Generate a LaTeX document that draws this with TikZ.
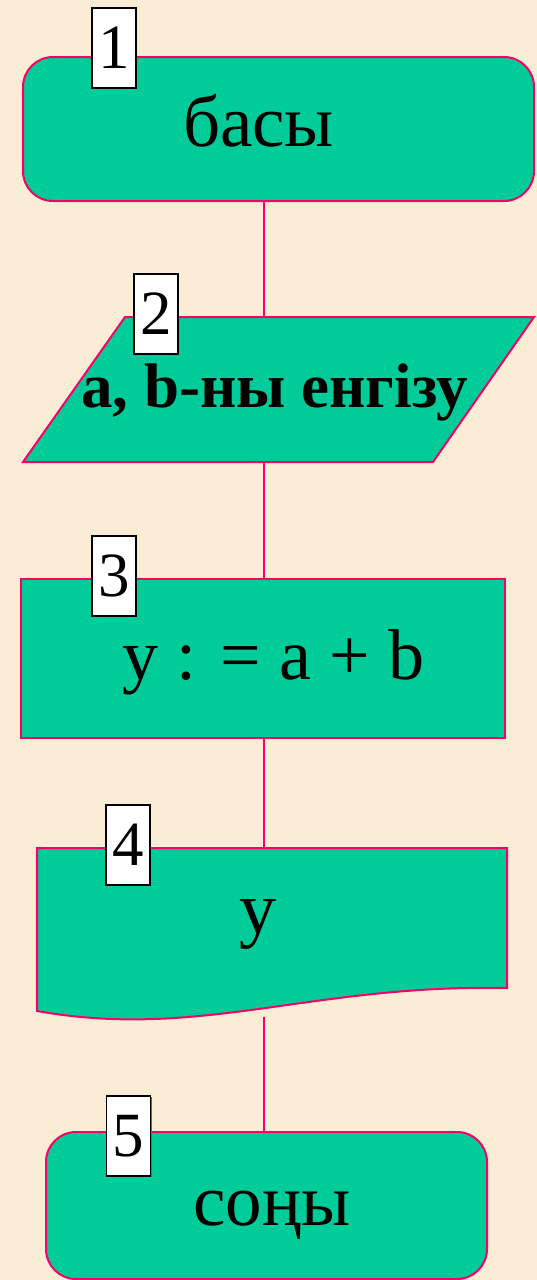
\documentclass[tikz,border=0pt]{standalone}
\usepackage{fontspec}
\setmainfont{Liberation Serif}
\usetikzlibrary{shadows}
\definecolor{bgcol}{RGB}{251,237,213}
\definecolor{fillg}{RGB}{0,204,153}
\definecolor{edgecol}{RGB}{250,0,102}
\begin{document}
\begin{tikzpicture}[x=1pt,y=-1pt,
  blk/.style={draw=edgecol, line width=2pt, fill=fillg},
  frame/.style={inner sep=0pt, outer sep=0pt},
  conn/.style={draw=edgecol, line width=2pt},
  num/.style={draw=black, line width=1.3pt, fill=white, minimum width=44pt, minimum height=80pt, inner sep=0pt,
    font=\fontsize{63}{63}\selectfont,
    drop shadow={shadow xshift=1.2pt, shadow yshift=-1.2pt, fill=black!60, opacity=1}},
  txt/.style={inner sep=0pt, anchor=base}]
\fill[bgcol] (0,0) rectangle (537,1280);
\useasboundingbox (0,0) rectangle (537,1280);
\coordinate (axis) at (264,0);
% frames
\node[frame, minimum width=511pt, minimum height=144pt] (b1) at (278.5,129) {};
\node[frame, minimum width=511pt, minimum height=145pt] (b2) at (278.5,389.5) {};
\node[frame, minimum width=484pt, minimum height=159pt] (b3) at (263,658.5) {};
\node[frame, minimum width=470pt, minimum height=140pt] (b4) at (272,918) {};
\coordinate (d4) at (264,1017);
\node[frame, minimum width=441pt, minimum height=147pt] (b5) at (266.5,1205.5) {};
% connectors
\draw[conn] (b1.south -| axis) -- (b2.north -| axis);
\draw[conn] (b2.south -| axis) -- (b3.north -| axis);
\draw[conn] (b3.south -| axis) -- (b4.north -| axis);
\draw[conn] (d4) -- (b5.north -| axis);
% shapes
\filldraw[blk, rounded corners=30pt] (b1.north west) rectangle (b1.south east);
\filldraw[blk] ([xshift=102pt]b2.north west) -- (b2.north east) -- ([xshift=-101pt]b2.south east) -- (b2.south west) -- cycle;
\filldraw[blk] (b3.north west) rectangle (b3.south east);
\filldraw[blk] (b4.north west) -- (b4.north east) -- (b4.south east) .. controls (310,984) and (200,1040) .. (37,1011) -- cycle;
\filldraw[blk, rounded corners=30pt] (b5.north west) rectangle (b5.south east);
% texts
\node[txt, font=\fontsize{73}{73}\selectfont] (t1) at (258.5,146) {басы};
\node[txt, font=\fontsize{63}{63}\selectfont\bfseries] (t2) at (274.5,407) {a, b-ны енгізу};
\node[txt, font=\fontsize{72}{72}\selectfont] (t3) at (273.5,679) {y : = a + b};
\node[txt, font=\fontsize{74}{74}\selectfont] (t4) at (258,933) {y};
\node[txt, font=\fontsize{73}{73}\selectfont] (t5) at (272,1225) {соңы};
% number labels
\node[num] (n1) at (114,48) {1};
\node[num] (n2) at (156,314) {2};
\node[num] (n3) at (114,576) {3};
\node[num] (n4) at (128,845) {4};
\node[num] (n5) at (128.5,1136) {5};
\end{tikzpicture}
\end{document}
